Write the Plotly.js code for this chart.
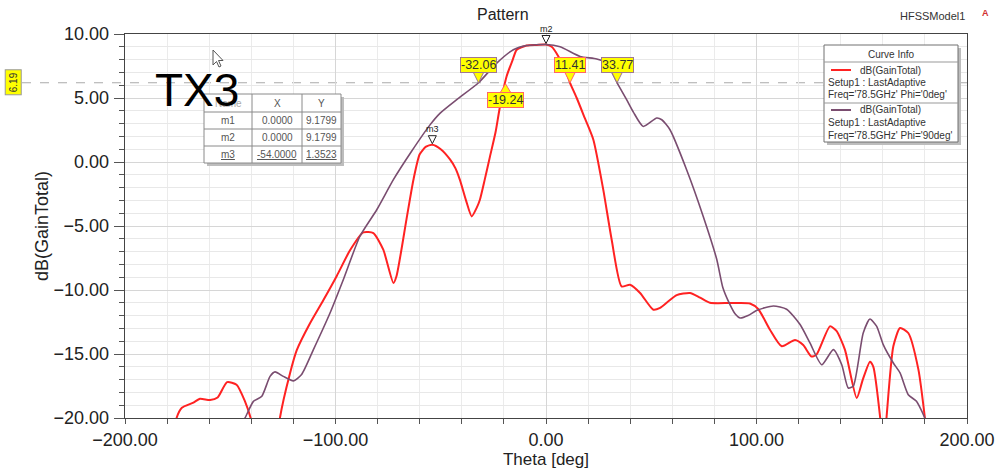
<!DOCTYPE html>
<html><head><meta charset="utf-8">
<script src="https://cdn.plot.ly/plotly-3.0.1.min.js"></script>
<style>html,body{margin:0;padding:0;background:#fff;}#chart{width:998px;height:472px;}</style>
</head><body><div id="chart"></div>
<script>
// ---- data ----
const thetaPhi0 = [-180,-175.5,-173,-167.5,-164.4,-159.6,-156,-151.5,-147,-143,-140.3,-136,-132,-128,-126.4,-121.6,-118.4,-112.1,-105.8,-99.4,-93.1,-86.8,-82,-77.3,-72.5,-71,-66.3,-63,-60,-57,-54,-50,-45.6,-43,-40.9,-38,-35.3,-33,-31.4,-29,-26.6,-24,-21.9,-18.7,-16,-13.9,-9.2,-4.4,0,2.7,5.9,9.8,11.41,14.6,18.5,22.5,27.2,31.2,35.9,39.9,44.7,51,54.2,58,62.1,68.4,73.2,77.9,87.4,96.9,100.9,106.4,112,118.3,122.2,126.1,128.5,134.9,138,142,147.6,150.5,153.9,155.5,158.7,160.3,161.8,165,168.2,172.1,176.9,180];
const gainPhi0 = [-24,-20,-19.2,-18.8,-18.5,-18.6,-18.4,-17.2,-17.4,-18.7,-20,-23,-25,-22.5,-20,-16.5,-14.7,-12.6,-10.8,-8.9,-6.9,-5.5,-5.55,-6.85,-9.45,-8.9,-4.5,-1.4,0.6,1.2,1.35,1.0,0.2,-0.5,-1.4,-3.0,-4.25,-3.6,-2.95,-1.3,0.44,2.3,4.3,6.7,7.9,8.77,9.1,9.15,9.18,9.0,8.25,6.95,6.19,5.0,3.4,1.74,-2.16,-6.07,-9.72,-9.59,-10.23,-11.54,-11.4,-10.9,-10.4,-10.23,-10.6,-11.0,-11.02,-11.05,-11.5,-13.1,-14.4,-13.9,-14.3,-15.2,-15.05,-12.84,-13.2,-14.66,-18.44,-17.0,-15.6,-16.0,-19.9,-23,-19.9,-14.4,-12.97,-13.36,-16.2,-20];
const thetaPhi90 = [-180,-160,-150,-143,-139,-135,-131.1,-128.7,-124.8,-120,-116.1,-110.5,-102.6,-96.3,-88.4,-80.4,-72.5,-64,-55.1,-50.4,-42.4,-32.06,-23.4,-15.5,-9.2,0,6.7,16.2,24.1,28.8,33.77,38.3,41.5,46.2,52.6,55,58.9,66.8,74.7,81.1,84,87,90,92.2,96,100,108,114.3,120.7,125.4,131,136.5,140.5,143.6,146,150.7,153.9,157.1,160.2,165,168.2,172.1,176,180];
const gainPhi90 = [-25,-24,-22,-20,-18.7,-18.3,-16.75,-16.4,-16.75,-17.1,-16.6,-14.66,-11.8,-9.2,-5.8,-3.73,-1.38,0.8,2.9,3.8,4.87,6.19,7.73,8.77,9.1,9.18,9.0,8.25,8.05,7.73,6.19,4.87,3.9,2.78,3.44,3.3,2.52,-0.6,-4.25,-7.6,-9.8,-11.0,-11.9,-12.19,-12.0,-11.6,-11.25,-11.5,-12.7,-14.14,-15.84,-14.66,-15.84,-17.66,-17.5,-13.36,-12.27,-12.84,-14.27,-15.7,-16.48,-18.18,-18.7,-20];
const crossLevel = 6.19;
const crossPhi90 = [-32.06, 33.77];
const crossPhi0 = [-19.24, 11.41];
const markerNames = ['m1','m2','m3'];
const markerX = [0.0, 0.0, -54.0];
const markerY = [9.1799, 9.1799, 1.3523];
const legendNames = ["Freq='78.5GHz' Phi='0deg'", "Freq='78.5GHz' Phi='90deg'"];

// ---- layout helpers ----
const L=125, T=34, W=842, H=384;
const px = x => (x-L)/W;
const py = y => (T+H-y)/H;
const FONT = 'Liberation Sans, Arial, sans-serif';
const RED = '#ff2222', PURPLE = '#7a4d70';

const traces = [
  {x: thetaPhi0, y: gainPhi0, mode:'lines', line:{color:RED, width:2, shape:'spline', smoothing:0.6}, showlegend:false, hoverinfo:'skip'},
  {x: thetaPhi90, y: gainPhi90, mode:'lines', line:{color:PURPLE, width:1.6, shape:'spline', smoothing:0.6}, showlegend:false, hoverinfo:'skip'}
];

const shapes = [];
const ann = [];
function A(o){ ann.push(Object.assign({showarrow:false, xanchor:'center', yanchor:'middle'}, o)); }

// dashed level line
shapes.push({type:'line', xref:'paper', yref:'y', x0:px(22), x1:1, y0:crossLevel, y1:crossLevel, line:{color:'#aaaaaa', width:1.2, dash:'dash'}, layer:'below'});
// 6.19 label
A({xref:'paper', yref:'y', x:px(13.5), y:crossLevel, text:crossLevel.toFixed(2), textangle:-90, font:{family:FONT, size:10, color:'#333'}, bgcolor:'#ffff00', bordercolor:'#999', borderwidth:1, borderpad:2});

// crossing markers
function crossMark(xv, color, up){
  const lf = {family:FONT, size:12.5, color:'#333'};
  if(!up){
    shapes.push({type:'path', xref:'x', yref:'y', xsizemode:'pixel', ysizemode:'pixel', xanchor:xv, yanchor:crossLevel,
      path:'M0,0 L-6,12 L6,12 Z', fillcolor:'#ffff00', line:{color:color, width:1}, layer:'above'});
    A({x:xv, y:crossLevel, xref:'x', yref:'y', yshift:18, text:xv.toFixed(2), font:lf, bgcolor:'#ffff00', bordercolor:color, borderwidth:1, borderpad:0});
  } else {
    shapes.push({type:'path', xref:'x', yref:'y', xsizemode:'pixel', ysizemode:'pixel', xanchor:xv, yanchor:crossLevel,
      path:'M0,-1 L-6,-11 L6,-11 Z', fillcolor:'#ffff00', line:{color:color, width:1}, layer:'above'});
    A({x:xv, y:crossLevel, xref:'x', yref:'y', yshift:-17, text:xv.toFixed(2), font:lf, bgcolor:'#ffff00', bordercolor:color, borderwidth:1, borderpad:0});
  }
}
crossMark(crossPhi90[0], '#a07890', false);
crossMark(crossPhi0[0], '#ff6666', true);
crossMark(crossPhi0[1], '#ff6666', false);
crossMark(crossPhi90[1], '#a07890', false);

// m2 and m3 markers
[1,2].forEach(i=>{
  shapes.push({type:'path', xref:'x', yref:'y', xsizemode:'pixel', ysizemode:'pixel', xanchor:markerX[i], yanchor:markerY[i],
    path:'M0,1 L-4,9 L4,9 Z', fillcolor:'#ffffff', line:{color:'#222', width:1}, layer:'above'});
  A({x:markerX[i], y:markerY[i], xref:'x', yref:'y', yshift:16, text:markerNames[i], font:{family:FONT, size:9, color:'#222'}});
});

// marker table
const tL=204, tR=341, tT=94, tB=163;
const colX=[204,252,302,341];
const rowY=[94,112,129,146,163];
shapes.push({type:'rect', xref:'paper', yref:'paper', x0:px(tL+3), x1:px(tR+3), y0:py(tT+3), y1:py(tB+3), fillcolor:'#bdbdbd', line:{width:0}, layer:'above'});
shapes.push({type:'rect', xref:'paper', yref:'paper', x0:px(tL), x1:px(tR), y0:py(tT), y1:py(tB), fillcolor:'#ffffff', line:{color:'#8a8a8a', width:1}, layer:'above'});
[1,2].forEach(c=>shapes.push({type:'line', xref:'paper', yref:'paper', x0:px(colX[c]), x1:px(colX[c]), y0:py(tT), y1:py(tB), line:{color:'#8a8a8a', width:1}, layer:'above'}));
[1,2,3].forEach(r=>shapes.push({type:'line', xref:'paper', yref:'paper', x0:px(tL), x1:px(tR), y0:py(rowY[r]), y1:py(rowY[r]), line:{color:'#8a8a8a', width:1}, layer:'above'}));
const cellFont = {family:FONT, size:10, color:'#555'};
const header = ['Name','X','Y'];
header.forEach((h,c)=>A({xref:'paper', yref:'paper', x:px((colX[c]+colX[c+1])/2), y:py((rowY[0]+rowY[1])/2), text:h, font:c===0?{family:FONT, size:10, color:'#aaa'}:cellFont}));
markerNames.forEach((n,r)=>{
  const ul = r===2;
  const wrap = s => ul ? '<span style="text-decoration:underline">'+s+'</span>' : s;
  const vals = [n, markerX[r].toFixed(4), markerY[r].toFixed(4)];
  vals.forEach((v,c)=>A({xref:'paper', yref:'paper', x:px((colX[c]+colX[c+1])/2), y:py((rowY[r+1]+rowY[r+2])/2), text:wrap(v), font:cellFont}));
});

// TX3 big label
A({xref:'paper', yref:'paper', x:px(197), y:py(90), text:'TX3', font:{family:FONT, size:46, color:'#000'}});

// mouse cursor
shapes.push({type:'path', xref:'paper', yref:'paper', xsizemode:'pixel', ysizemode:'pixel', xanchor:px(213), yanchor:py(50),
  path:'M0,0 L0,-15 L3.5,-11.5 L6,-17 L8,-16 L5.5,-10.5 L10,-10.5 Z', fillcolor:'#ffffff', line:{color:'#555', width:1}, layer:'above'});

// Curve Info legend
const gL=824, gR=958, gT=45, gB=142;
shapes.push({type:'rect', xref:'paper', yref:'paper', x0:px(gL+3), x1:px(gR+3), y0:py(gT+3), y1:py(gB+3), fillcolor:'#bdbdbd', line:{width:0}, layer:'above'});
shapes.push({type:'rect', xref:'paper', yref:'paper', x0:px(gL), x1:px(gR), y0:py(gT), y1:py(gB), fillcolor:'#ffffff', line:{color:'#707070', width:1}, layer:'above'});
shapes.push({type:'line', xref:'paper', yref:'paper', x0:px(gL), x1:px(gR), y0:py(62), y1:py(62), line:{color:'#999', width:1}, layer:'above'});
shapes.push({type:'line', xref:'paper', yref:'paper', x0:px(gL), x1:px(gR), y0:py(103), y1:py(103), line:{color:'#999', width:1}, layer:'above'});
const legFont = {family:FONT, size:10, color:'#333'};
A({xref:'paper', yref:'paper', x:px((gL+gR)/2), y:py(54), text:'Curve Info', font:legFont});
[[RED,70],[PURPLE,110]].forEach((e,i)=>{
  const y0 = e[1];
  shapes.push({type:'line', xref:'paper', yref:'paper', x0:px(831), x1:px(851), y0:py(y0), y1:py(y0), line:{color:e[0], width:2}, layer:'above'});
  A({xref:'paper', yref:'paper', x:px(858), y:py(y0), xanchor:'left', text:'dB(GainTotal)', font:legFont});
  A({xref:'paper', yref:'paper', x:px(826), y:py(y0+12.5), xanchor:'left', text:'Setup1 : LastAdaptive', font:legFont});
  A({xref:'paper', yref:'paper', x:px(826), y:py(y0+25), xanchor:'left', text:legendNames[i], font:legFont});
});

// top texts
A({xref:'paper', yref:'paper', x:px(503), y:py(15), text:'Pattern', font:{family:FONT, size:16, color:'#222'}});
A({xref:'paper', yref:'paper', x:px(932), y:py(16), text:'HFSSModel1', font:{family:FONT, size:11, color:'#333'}});
A({xref:'paper', yref:'paper', x:px(985), y:py(13), text:'<b>A</b>', font:{family:FONT, size:9, color:'#d03030'}});

const axisCommon = {
  showline:true, mirror:true, linecolor:'#444', linewidth:1.3,
  ticks:'outside', tickwidth:1, tickcolor:'#555',
  tickformat:'.2f', zeroline:false, gridcolor:'#d6d6d6', gridwidth:1,
  tickfont:{family:FONT, size:18, color:'#222'}
};

const layout = {
  width:998, height:472,
  margin:{l:L, r:998-L-W, t:T, b:472-T-H, pad:0},
  paper_bgcolor:'#ffffff', plot_bgcolor:'#ffffff',
  showlegend:false,
  xaxis: Object.assign({}, axisCommon, {
    range:[-200,200], dtick:100, tick0:0, ticklen:5,
    minor:{dtick:20, ticks:'outside', ticklen:5, tickcolor:'#555', showgrid:true, gridcolor:'#ebebeb'},
    title:{text:'Theta [deg]', font:{family:FONT, size:17, color:'#222'}, standoff:2}
  }),
  yaxis: Object.assign({}, axisCommon, {
    range:[-20,10], dtick:5, tick0:0, ticklen:10, ticklabelstandoff:1,
    minor:{dtick:1, ticks:'outside', ticklen:5, tickcolor:'#555', showgrid:true, gridcolor:'#e8e8e8'},
    title:{text:'dB(GainTotal)', font:{family:FONT, size:18, color:'#222'}, standoff:0}
  }),
  shapes: shapes,
  annotations: ann
};

Plotly.newPlot('chart', traces, layout, {staticPlot:true, displayModeBar:false});
</script>
</body></html>
